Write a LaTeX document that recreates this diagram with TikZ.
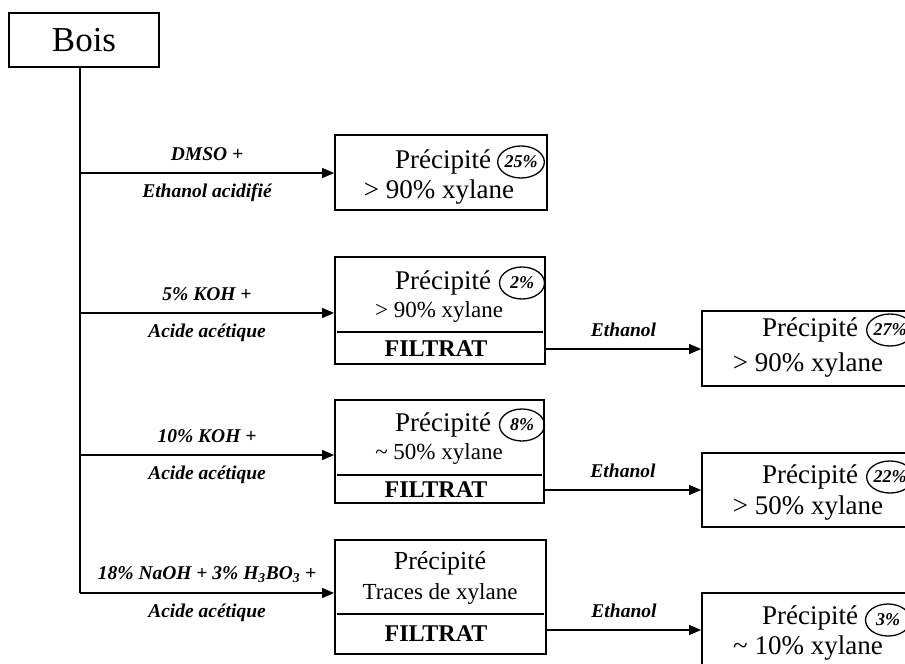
\documentclass[tikz,border=0pt]{standalone}
\usepackage{fontspec}
\setmainfont{Liberation Serif}
\usetikzlibrary{shapes.geometric,arrows.meta,positioning,calc}
\tikzset{
    boite/.style={
        rectangle,                % cadre simple
        draw,
        line width=1.8pt,         % bord un peu plus épais que les traits
        inner sep=0pt,
        minimum width=#1          % largeur passée en argument
    },
    boite/.default=211pt,
    taux/.style={
        ellipse,                  % petite bulle du rendement
        draw,
        line width=1.3pt,
        minimum width=45pt,
        minimum height=32pt,
        inner sep=0pt,
        font=\fontsize{18}{20}\selectfont\bfseries\itshape
    },
    gros/.style={font=\fontsize{27}{30}\selectfont, inner sep=0pt},
    moyen/.style={font=\fontsize{23}{26}\selectfont, inner sep=0pt},
    filtrat/.style={font=\fontsize{24}{27}\selectfont\bfseries, inner sep=0pt},
    etiq/.style={font=\fontsize{19.5}{22}\selectfont\bfseries\itshape, inner sep=0pt},
    trait/.style={line width=1.3pt},
    fleche/.style={-{Triangle[length=12pt,width=10pt]}, line width=1.3pt}
}
\begin{document}
\begin{tikzpicture}[x=1pt,y=-1pt]
    \useasboundingbox (0,0) rectangle (905,664);
    \clip (0,0) rectangle (905,664);

    \node[boite=150pt, minimum height=54pt, font=\fontsize{35}{40}\selectfont] (bois) at (84,40) {Bois};

    \coordinate (b1) at (80,173);
    \coordinate (b2) at (80,313);
    \coordinate (b3) at (80,455);
    \coordinate (b4) at (80,593);

    % colonne du milieu
    \node[boite=212pt, minimum height=75pt] (prec1) at (441,172.5) {};
    \node[gros] (p1a) at (443,162) {Précipité};
    \node[gros] (p1b) at (439,192) {> 90\% xylane};
    \node[taux] (t1) at (521,162) {25\%};

    \node[boite=210pt, minimum height=107pt] (prec2) at (440,310.5) {};
    \node[gros] (p2a) at (443,283) {Précipité};
    \node[moyen] (p2b) at (439,312) {> 90\% xylane};
    \node[filtrat] (f2) at (436,349) {FILTRAT};
    \node[taux] (t2) at (522,283) {2\%};
    \draw[trait] ([xshift=3pt]prec2.west |- 0,332) -- ([xshift=-3pt]prec2.east |- 0,332);

    \node[boite=209pt, minimum height=103pt] (prec3) at (439.5,451.5) {};
    \node[gros] (p3a) at (443,425) {Précipité};
    \node[moyen] (p3b) at (439,454) {\textasciitilde{} 50\% xylane};
    \node[filtrat] (f3) at (436,490) {FILTRAT};
    \node[taux] (t3) at (522,425) {8\%};
    \draw[trait] ([xshift=3pt]prec3.west |- 0,475) -- ([xshift=-3pt]prec3.east |- 0,475);

    \node[boite=211pt, minimum height=114pt] (prec4) at (440.5,597) {};
    \node[gros, font=\fontsize{26}{29}\selectfont] (p4a) at (440,563) {Précipité};
    \node[moyen] (p4b) at (440,594) {Traces de xylane};
    \node[filtrat] (f4) at (436,634) {FILTRAT};
    \draw[trait] ([xshift=3pt]prec4.west |- 0,614) -- ([xshift=-3pt]prec4.east |- 0,614);

    % colonne de droite
    \node[boite=228pt, minimum height=75pt] (res2) at (816,348.5) {};
    \node[gros] (r2a) at (810,330) {Précipité};
    \node[gros] (r2b) at (808,365) {> 90\% xylane};
    \node[taux] (u2) at (890,330) {27\%};

    \node[boite=228pt, minimum height=74pt] (res3) at (816,490) {};
    \node[gros] (r3a) at (810,477) {Précipité};
    \node[gros] (r3b) at (808,508) {> 50\% xylane};
    \node[taux] (u3) at (890,477) {22\%};

    \node[boite=228pt, minimum height=77pt] (res4) at (816,631.5) {};
    \node[gros] (r4a) at (810,618) {Précipité};
    \node[gros] (r4b) at (808,648) {\textasciitilde{} 10\% xylane};
    \node[taux] (u4) at (888,620) {3\%};

    \draw[trait] (bois.south -| b1) -- (b4);
    \draw[fleche] (b1) -- (b1 -| prec1.west)
        node[etiq, midway, yshift=19pt] {DMSO +}
        node[etiq, midway, yshift=-20pt] {Ethanol acidifié};
    \draw[fleche] (b2) -- (b2 -| prec2.west)
        node[etiq, midway, yshift=19pt] {5\% KOH +}
        node[etiq, midway, yshift=-20pt] {Acide acétique};
    \draw[fleche] (b3) -- (b3 -| prec3.west)
        node[etiq, midway, yshift=19pt] {10\% KOH +}
        node[etiq, midway, yshift=-20pt] {Acide acétique};
    \draw[fleche] (b4) -- (b4 -| prec4.west)
        node[etiq, midway, yshift=18pt] {18\% NaOH + 3\% H\textsubscript{3}BO\textsubscript{3} +}
        node[etiq, midway, yshift=-20pt] {Acide acétique};

    \draw[fleche] (prec2.east |- f2) -- (res2.west |- f2)
        node[etiq, midway, yshift=19pt] {Ethanol};
    \draw[fleche] (prec3.east |- f3) -- (res3.west |- f3)
        node[etiq, midway, yshift=19pt] {Ethanol};
    \draw[fleche] (prec4.east |- 0,630) -- (res4.west |- 0,630)
        node[etiq, midway, yshift=19pt] {Ethanol};
\end{tikzpicture}
\end{document}
